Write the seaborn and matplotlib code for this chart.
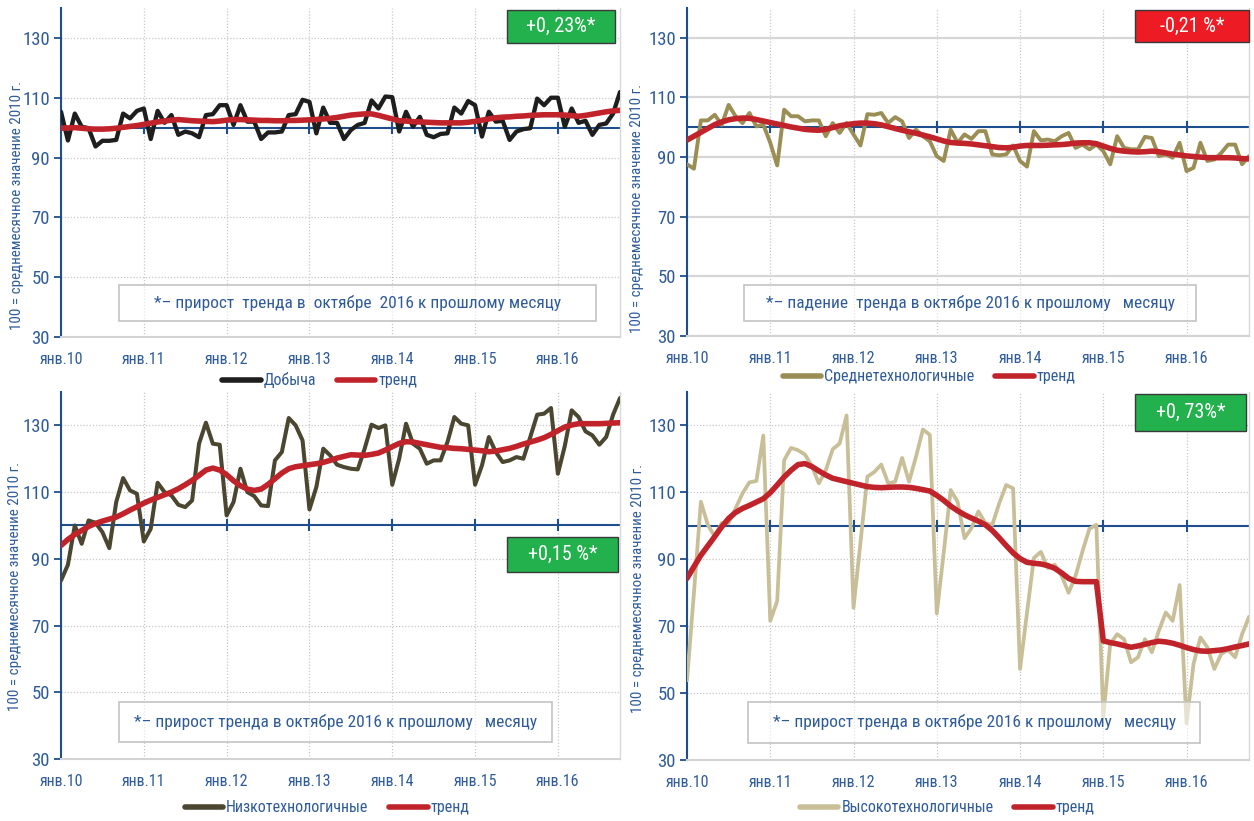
import numpy as np
import pandas as pd
import matplotlib
matplotlib.use("Agg")
import matplotlib.pyplot as plt
from matplotlib import font_manager as fm
from matplotlib.patches import Rectangle
from matplotlib.lines import Line2D
import seaborn as sns

# ---------------- data ----------------
months = pd.date_range("2010-01-01", "2016-10-01", freq="MS")
year_labels = ["янв.10", "янв.11", "янв.12", "янв.13", "янв.14", "янв.15", "янв.16"]
y_ticks = [30, 50, 70, 90, 110, 130]

dobycha = [105.3, 95.7, 104.7, 100.3, 99.8, 93.7, 95.6, 95.6, 95.9, 104.7, 103.1, 105.6,
           106.4, 96.2, 105.6, 101.6, 104.2, 97.6, 98.7, 98.1, 96.8, 104.2, 104.5, 107.5,
           107.5, 100.9, 107.5, 102.0, 102.0, 96.2, 98.4, 98.4, 98.7, 104.2, 104.5, 109.3,
           108.6, 98.1, 106.7, 101.6, 101.6, 96.2, 99.2, 100.9, 101.6, 109.1, 106.4, 110.4,
           110.2, 98.7, 105.3, 100.3, 103.6, 97.6, 96.8, 97.9, 98.1, 106.7, 104.7, 108.9,
           107.5, 97.0, 105.3, 102.0, 102.3, 95.9, 98.7, 99.5, 99.8, 109.7, 107.5, 110.0,
           110.0, 100.3, 106.4, 101.6, 102.3, 97.6, 100.9, 101.4, 104.7, 111.9]
dobycha_trend = [99.8, 99.9, 100.0, 99.8, 99.6, 99.5, 99.5, 99.6, 99.8, 100.1, 100.4, 100.7,
                 101.1, 101.5, 101.9, 102.2, 102.5, 102.7, 102.5, 102.3, 102.2, 102.1, 102.0, 102.2,
                 102.5, 102.7, 102.7, 102.6, 102.5, 102.4, 102.4, 102.3, 102.3, 102.4, 102.4, 102.5,
                 102.6, 102.7, 102.9, 103.1, 103.4, 103.8, 104.2, 104.4, 104.6, 104.6, 104.1, 103.5,
                 102.9, 102.3, 102.2, 102.0, 101.9, 101.8, 101.7, 101.6, 101.6, 101.6, 101.6, 101.8,
                 102.1, 102.5, 102.9, 103.3, 103.5, 103.6, 103.8, 103.9, 104.1, 104.2, 104.3, 104.3,
                 104.3, 104.2, 104.0, 103.8, 104.1, 104.5, 104.9, 105.3, 105.6, 105.8]

sredne = [87.6, 86.1, 102.3, 102.3, 104.2, 100.8, 107.5, 103.7, 101.4, 104.8, 100.3, 100.9,
          94.8, 87.2, 105.9, 103.7, 103.7, 102.0, 102.3, 102.3, 97.0, 101.4, 98.1, 101.4,
          97.6, 93.9, 104.4, 104.2, 104.8, 101.4, 103.4, 102.0, 96.4, 99.2, 97.0, 95.3,
          90.3, 88.7, 99.2, 94.8, 97.6, 96.1, 98.7, 98.7, 90.9, 90.6, 90.9, 93.9,
          88.7, 86.8, 98.7, 95.6, 95.9, 95.3, 97.0, 98.1, 93.1, 94.2, 92.6, 94.2,
          92.0, 87.6, 97.0, 93.1, 92.6, 92.6, 96.8, 96.4, 90.3, 90.9, 89.8, 94.8,
          85.3, 86.4, 94.8, 88.7, 89.2, 91.4, 94.2, 94.2, 87.6, 90.3]
sredne_trend = [95.7, 97.0, 98.3, 99.6, 100.9, 101.8, 102.5, 102.9, 103.1, 103.0, 102.6, 102.1,
                101.6, 101.1, 100.6, 100.1, 99.7, 99.3, 99.1, 99.0, 99.3, 99.9, 100.5, 100.9,
                101.2, 101.4, 101.4, 101.2, 100.8, 100.2, 99.6, 99.0, 98.5, 98.0, 97.4, 96.8,
                96.1, 95.4, 94.9, 94.7, 94.6, 94.4, 94.1, 93.8, 93.5, 93.2, 93.1, 93.3,
                93.7, 93.9, 93.9, 93.9, 94.0, 94.1, 94.2, 94.4, 94.7, 94.8, 94.8, 94.5,
                93.7, 92.9, 92.3, 92.0, 91.8, 91.7, 91.8, 92.0, 91.8, 91.4, 91.0, 90.7,
                90.4, 90.2, 90.0, 89.8, 89.8, 89.8, 89.8, 89.7, 89.5, 89.4]

nizko = [83.5, 88.2, 100.0, 94.5, 101.5, 100.8, 98.0, 93.2, 107.0, 114.2, 110.5, 109.5,
         95.2, 99.0, 112.8, 110.0, 109.0, 106.2, 105.5, 107.5, 124.5, 130.8, 124.5, 124.2,
         103.0, 107.0, 117.0, 110.0, 108.8, 106.0, 105.8, 119.5, 122.0, 132.2, 130.0, 125.5,
         104.8, 111.5, 123.0, 121.0, 118.2, 117.5, 117.0, 116.8, 123.0, 130.2, 129.2, 130.0,
         112.2, 120.0, 130.5, 124.5, 123.0, 118.5, 119.5, 119.5, 125.0, 132.5, 130.5, 130.0,
         112.2, 118.0, 126.5, 122.0, 119.0, 119.5, 120.5, 120.0, 126.5, 133.2, 133.5, 135.2,
         115.5, 123.8, 134.5, 132.5, 128.2, 127.0, 124.2, 126.5, 133.2, 138.2]
nizko_trend = [94.0, 95.8, 97.3, 98.5, 99.7, 100.6, 101.3, 101.9, 102.5, 103.5, 104.6, 105.6,
               106.7, 107.6, 108.4, 109.2, 110.0, 111.0, 112.2, 113.5, 115.0, 116.6, 117.2, 116.6,
               115.2, 113.4, 111.9, 110.9, 110.5, 110.9, 112.3, 114.0, 115.7, 117.0, 117.6, 117.9,
               118.2, 118.5, 118.9, 119.5, 120.2, 120.7, 121.2, 121.1, 121.0, 121.3, 121.7, 122.6,
               123.6, 124.6, 125.1, 125.0, 124.6, 124.2, 123.8, 123.4, 123.3, 123.1, 123.0, 122.8,
               122.6, 122.4, 122.1, 122.3, 122.7, 123.1, 123.7, 124.4, 125.0, 125.6, 126.3, 127.3,
               128.4, 129.5, 130.1, 130.5, 130.5, 130.5, 130.5, 130.6, 130.7, 130.8]

vysoko = [53.8, 80.0, 107.2, 100.3, 96.8, 100.8, 100.8, 105.2, 109.7, 113.0, 113.4, 127.0,
          71.6, 77.5, 119.6, 123.3, 122.6, 121.3, 117.9, 112.7, 116.6, 122.9, 124.6, 133.0,
          75.5, 95.0, 114.7, 116.1, 118.3, 112.7, 113.2, 120.3, 113.2, 120.6, 128.8, 127.2,
          73.8, 92.0, 110.7, 107.2, 96.3, 99.3, 104.3, 100.8, 100.3, 106.7, 112.2, 111.2,
          57.2, 74.0, 90.4, 92.2, 87.4, 88.4, 85.0, 80.0, 85.0, 92.4, 99.1, 100.3,
          43.0, 64.7, 67.6, 66.1, 59.2, 60.7, 66.1, 62.2, 68.6, 74.1, 71.6, 82.3,
          41.0, 58.7, 66.6, 63.7, 57.2, 61.7, 62.9, 60.7, 67.6, 72.8]
vysoko_trend = [84.3, 87.8, 91.2, 94.0, 96.8, 99.7, 102.2, 104.0, 105.2, 106.1, 107.1, 108.1,
                109.9, 112.2, 114.6, 116.6, 118.3, 118.6, 117.7, 116.4, 115.2, 114.2, 113.7, 113.2,
                112.7, 112.2, 111.7, 111.5, 111.4, 111.5, 111.6, 111.6, 111.5, 111.2, 110.8, 110.4,
                109.1, 107.6, 105.9, 104.5, 103.3, 102.3, 101.4, 100.3, 98.6, 96.4, 94.1, 91.9,
                90.2, 89.1, 88.8, 88.6, 88.1, 87.3, 85.9, 84.3, 83.4, 83.3, 83.3, 83.3,
                65.6, 65.1, 64.7, 64.2, 63.7, 64.1, 64.6, 65.1, 65.5, 65.3, 64.9, 64.3,
                63.6, 63.0, 62.6, 62.5, 62.7, 62.9, 63.3, 63.8, 64.2, 64.7]

series_names = ["Добыча", "Среднетехнологичные", "Низкотехнологичные", "Высокотехнологичные"]
trend_name = "тренд"
badges = ["+0, 23%*", "-0,21 %*", "+0,15 %*", "+0, 73%*"]
notes = ["*– прирост  тренда в  октябре  2016 к прошлому месяцу",
         "*– падение  тренда в октябре 2016 к прошлому   месяцу",
         "*– прирост тренда в октябре 2016 к прошлому   месяцу",
         "*– прирост тренда в октябре 2016 к прошлому   месяцу"]
ylabel = "100 = среднемесячное значение 2010 г."

# ---------------- style ----------------
sns.set_theme(style="white")


def pick_font():
    ents = fm.fontManager.ttflist
    for fam in ["Roboto Condensed", "Liberation Sans Narrow", "Open Sans Condensed",
                "DejaVu Sans Condensed", "Noto Sans Condensed"]:
        if any(e.name == fam for e in ents):
            return fam, "normal"
    for fam in ["DejaVu Sans", "Noto Sans", "Open Sans", "Roboto", "Inter"]:
        for e in ents:
            st = str(e.stretch).lower()
            if e.name == fam and ("condensed" in st or "narrow" in st) and "extra" not in st \
                    and "ultra" not in st:
                return fam, "condensed"
    return "DejaVu Sans", "normal"


FONT, STRETCH = pick_font()
plt.rcParams["font.family"] = [FONT, "DejaVu Sans"]
plt.rcParams["font.stretch"] = STRETCH
K = 1.0 if (STRETCH == "condensed" or FONT != "DejaVu Sans") else 0.84

NAVY = "#1F4E8C"
TXT = "#2F5C99"
RED = "#C1232B"
GREEN = "#22B14C"
BRED = "#ED1C24"
GRID = "#C8C8C8"
series_colors = ["#1E1E1E", "#9A8E55", "#4A4630", "#C8BF98"]
series_widths = [3.1, 2.8, 2.9, 2.7]
badge_colors = [GREEN, BRED, GREEN, GREEN]

W, H = 1254, 821
fig = plt.figure(figsize=(W / 100, H / 100), dpi=100)


def px_axes(x0, x1, y0, y1):
    return fig.add_axes([x0 / W, 1 - y1 / H, (x1 - x0) / W, (y1 - y0) / H])


panels = [
    dict(box=(61, 620, 8, 337), data=dobycha, trend=dobycha_trend, hsolid=False,
         badge=(0.797, 0.895, 0.194, 0.100), note=(0.103, 0.049, 0.854, 0.109),
         leg=(0.463, -0.131), lab=(-0.066, 0.40)),
    dict(box=(687, 1249, 8, 336), data=sredne, trend=sredne_trend, hsolid=True,
         badge=(0.797, 0.895, 0.203, 0.100), note=(0.102, 0.046, 0.804, 0.109),
         leg=(0.431, -0.125), lab=(-0.077, 0.39)),
    dict(box=(61, 620, 392, 759), data=nizko, trend=nizko_trend, hsolid=False,
         badge=(0.797, 0.509, 0.200, 0.095), note=(0.104, 0.045, 0.775, 0.111),
         leg=(0.476, -0.133), lab=(-0.070, 0.47)),
    dict(box=(687, 1249, 392, 760), data=vysoko, trend=vysoko_trend, hsolid=False,
         badge=(0.797, 0.895, 0.198, 0.100), note=(0.109, 0.047, 0.804, 0.110),
         leg=(0.463, -0.130), lab=(-0.075, 0.465)),
]

tick_pos = np.flatnonzero(months.month == 1)
t = np.arange(len(months))

for i, p in enumerate(panels):
    ax = px_axes(*p["box"])
    df = pd.DataFrame({"t": t, "value": p["data"], "trend": p["trend"]})
    sns.lineplot(data=df, x="t", y="value", ax=ax, color=series_colors[i],
                 linewidth=series_widths[i], zorder=3)
    sns.lineplot(data=df, x="t", y="trend", ax=ax, color=RED,
                 linewidth=4.0, zorder=4)
    ax.set_xlim(t[0], t[-1])
    ax.set_ylim(30, 140)

    ax.set_xticks(tick_pos)
    ax.set_xticklabels(year_labels)
    ax.set_yticks(y_ticks)
    ax.xaxis.grid(True, linestyle=(0, (1, 1.5)), color=GRID, linewidth=0.9)
    if p["hsolid"]:
        ax.yaxis.grid(True, linestyle="-", color="#D6D6D6", linewidth=1.6)
    else:
        ax.yaxis.grid(True, linestyle=(0, (1, 1.5)), color=GRID, linewidth=0.9)
    ax.set_axisbelow(True)

    # reference line at 100 with year ticks
    ax.axhline(100, color=NAVY, linewidth=1.5, zorder=2)
    ax.plot(tick_pos[1:], np.full(len(tick_pos) - 1, 100.0), linestyle="none",
            marker="|", markersize=8, markeredgewidth=1.5, color=NAVY, zorder=2)

    ax.spines["top"].set_visible(False)
    ax.spines["left"].set_color(NAVY)
    ax.spines["left"].set_linewidth(1.5)
    ax.spines["bottom"].set_color("#D3D3D3")
    ax.spines["bottom"].set_linewidth(1.5)
    ax.spines["right"].set_color("#D9D9D9")
    ax.spines["right"].set_linewidth(1.0)

    ax.tick_params(axis="y", direction="out", length=5, width=1.3, color=NAVY,
                   labelcolor=TXT, labelsize=13.5 * K, pad=3, left=True)
    ax.tick_params(axis="x", length=0, labelcolor=TXT, labelsize=11.5 * K, pad=11)
    ax.set_xlabel("")
    ax.set_ylabel(ylabel, color=TXT, fontsize=10.8 * K)
    ax.yaxis.set_label_coords(*p["lab"])

    # badge
    bx, by, bw, bh = p["badge"]
    ax.add_patch(Rectangle((bx, by), bw, bh, transform=ax.transAxes,
                           facecolor=badge_colors[i], edgecolor="#3A3A3A",
                           linewidth=1.0, zorder=6, clip_on=False))
    ax.text(bx + bw / 2, by + bh / 2, badges[i], transform=ax.transAxes,
            ha="center", va="center", color="white", fontsize=14.5 * K, zorder=7)

    # note box (semi-transparent, lines show through faintly)
    nx, ny, nw, nh = p["note"]
    ax.add_patch(Rectangle((nx, ny), nw, nh, transform=ax.transAxes,
                           facecolor="white", alpha=0.55, edgecolor="none", zorder=5))
    ax.add_patch(Rectangle((nx, ny), nw, nh, transform=ax.transAxes,
                           facecolor="none", edgecolor="#C4C4C4",
                           linewidth=1.2, zorder=5))
    ax.text(nx + nw / 2, ny + nh / 2, notes[i], transform=ax.transAxes,
            ha="center", va="center", color=TXT, fontsize=12.5 * K, zorder=7)

    # legend
    handles = [Line2D([], [], color=series_colors[i], linewidth=4, solid_capstyle="round"),
               Line2D([], [], color=RED, linewidth=4, solid_capstyle="round")]
    if ax.get_legend() is not None:
        ax.get_legend().remove()
    ax.legend(handles, [series_names[i], trend_name], loc="center",
              bbox_to_anchor=p["leg"], ncol=2, frameon=False, fontsize=11.5 * K,
              handlelength=2.4, handletextpad=0.2, columnspacing=1.3,
              labelcolor=TXT)

fig.savefig("out.png", dpi=100, facecolor="white")
